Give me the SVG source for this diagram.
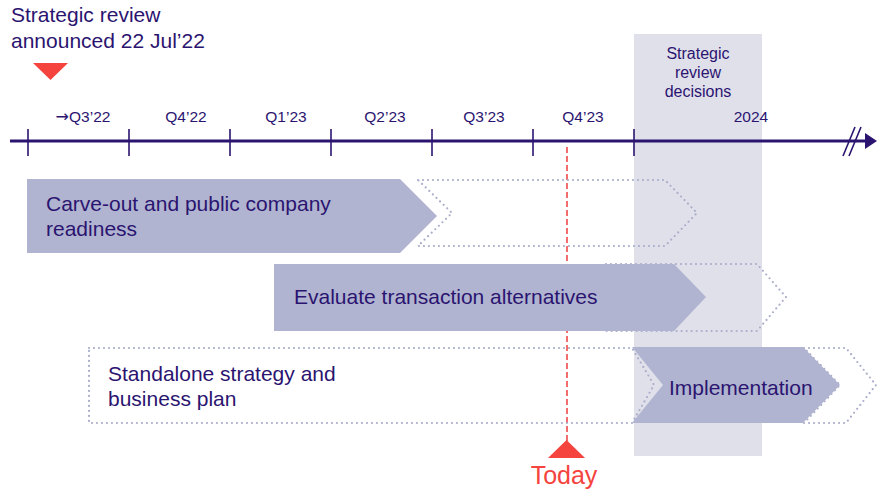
<svg xmlns="http://www.w3.org/2000/svg" width="877" height="489" viewBox="0 0 877 489">
  <style>
    .txt { font-family: "Liberation Sans", Arial, sans-serif; fill: #2b1470; }
    .tick-label { font-size: 15.5px; text-anchor: middle; }
    .bar-label { font-size: 21px; }
    .solid { fill: #b0b4d0; }
    .ghost { fill: none; stroke: #a9adc9; stroke-width: 2.2; stroke-linecap: round; stroke-linejoin: round; stroke-dasharray: 0 5; }
    .axis { stroke: #2b1470; stroke-width: 3; fill: none; }
    .tick { stroke: #2b1470; stroke-width: 1.6; }
    .today { fill: #f5433d; }
  </style>

  <!-- decision window band -->
  <rect id="decision-band" x="634" y="34" width="128" height="422" fill="#e0e0eb"/>

  <!-- today marker line -->
  <line x1="567" y1="147" x2="567" y2="442" stroke="#f04a4a" stroke-width="1.6" stroke-dasharray="6 3"/>

  <!-- timeline axis -->
  <g id="connectors">
    <line class="axis" x1="10" y1="141" x2="867" y2="141"/>
    <polygon points="865,133 877,141 865,149" fill="#2b1470"/>
    <line x1="843" y1="156" x2="855" y2="127" stroke="#2b1470" stroke-width="1.6"/>
    <line x1="849" y1="156" x2="861" y2="127" stroke="#2b1470" stroke-width="1.6"/>
    <g>
      <line class="tick" x1="28" y1="129" x2="28" y2="156"/>
      <line class="tick" x1="129" y1="129" x2="129" y2="156"/>
      <line class="tick" x1="230" y1="129" x2="230" y2="156"/>
      <line class="tick" x1="331" y1="129" x2="331" y2="156"/>
      <line class="tick" x1="432" y1="129" x2="432" y2="156"/>
      <line class="tick" x1="533" y1="129" x2="533" y2="156"/>
      <line class="tick" x1="634" y1="129" x2="634" y2="156"/>
    </g>
  </g>

  <!-- quarter labels -->
  <g id="axis-labels" class="txt tick-label">
    <text x="83" y="122"><tspan font-family="DejaVu Sans, sans-serif" font-size="16">→</tspan>Q3’22</text>
    <text x="186" y="122">Q4’22</text>
    <text x="286" y="122">Q1’23</text>
    <text x="385" y="122">Q2’23</text>
    <text x="484" y="122">Q3’23</text>
    <text x="583" y="122">Q4’23</text>
    <text x="751" y="122">2024</text>
  </g>

  <!-- announcement callout -->
  <g id="announcement">
    <text class="txt" x="11" y="22" font-size="21">Strategic review</text>
    <text class="txt" x="11" y="48" font-size="21">announced 22 Jul’22</text>
    <polygon class="today" points="33,63 68,63 50.5,80"/>
  </g>

  <!-- decision window label -->
  <g id="decisions" class="txt" font-size="16" text-anchor="middle">
    <text x="698" y="59">Strategic</text>
    <text x="698" y="78">review</text>
    <text x="698" y="97">decisions</text>
  </g>

  <!-- workstream 1 -->
  <g id="carve-out">
    <polygon class="ghost" points="418,180 665,180 697,213 665,246 418,246 452,213"/>
    <polygon class="solid" points="27,179 400,179 437,216 400,253 27,253"/>
    <text class="txt bar-label" x="46" y="211">Carve-out and public company</text>
    <text class="txt bar-label" x="46" y="236">readiness</text>
  </g>

  <!-- workstream 2 -->
  <g id="transaction">
    <polygon class="ghost" points="606,264 757,264 786,297 757,331 606,331 640,297"/>
    <polygon class="solid" points="274,264 674,264 706,297 674,331 274,331"/>
    <text class="txt bar-label" x="294" y="304">Evaluate transaction alternatives</text>
  </g>

  <!-- workstream 3 -->
  <g id="standalone">
    <polygon class="ghost" points="89,348 632,348 654,385 632,423 89,423" fill="#ffffff"/>
    <text class="txt bar-label" x="108" y="381">Standalone strategy and</text>
    <text class="txt bar-label" x="108" y="406">business plan</text>
  </g>

  <!-- workstream 4 -->
  <g id="implementation">
    <polygon class="ghost" points="804,348 846,348 876,385 846,423 804,423 840,385"/>
    <polygon class="solid" points="632,347 803,347 840,385 803,423 632,423 663,385"/>
    <text class="txt bar-label" x="669" y="395">Implementation</text>
  </g>

  <!-- today marker -->
  <g id="today">
    <polygon class="today" points="548,458 585,458 566.5,440"/>
    <text x="564" y="484" font-family="Liberation Sans, Arial, sans-serif" font-size="25" text-anchor="middle" fill="#f5433d">Today</text>
  </g>
</svg>
